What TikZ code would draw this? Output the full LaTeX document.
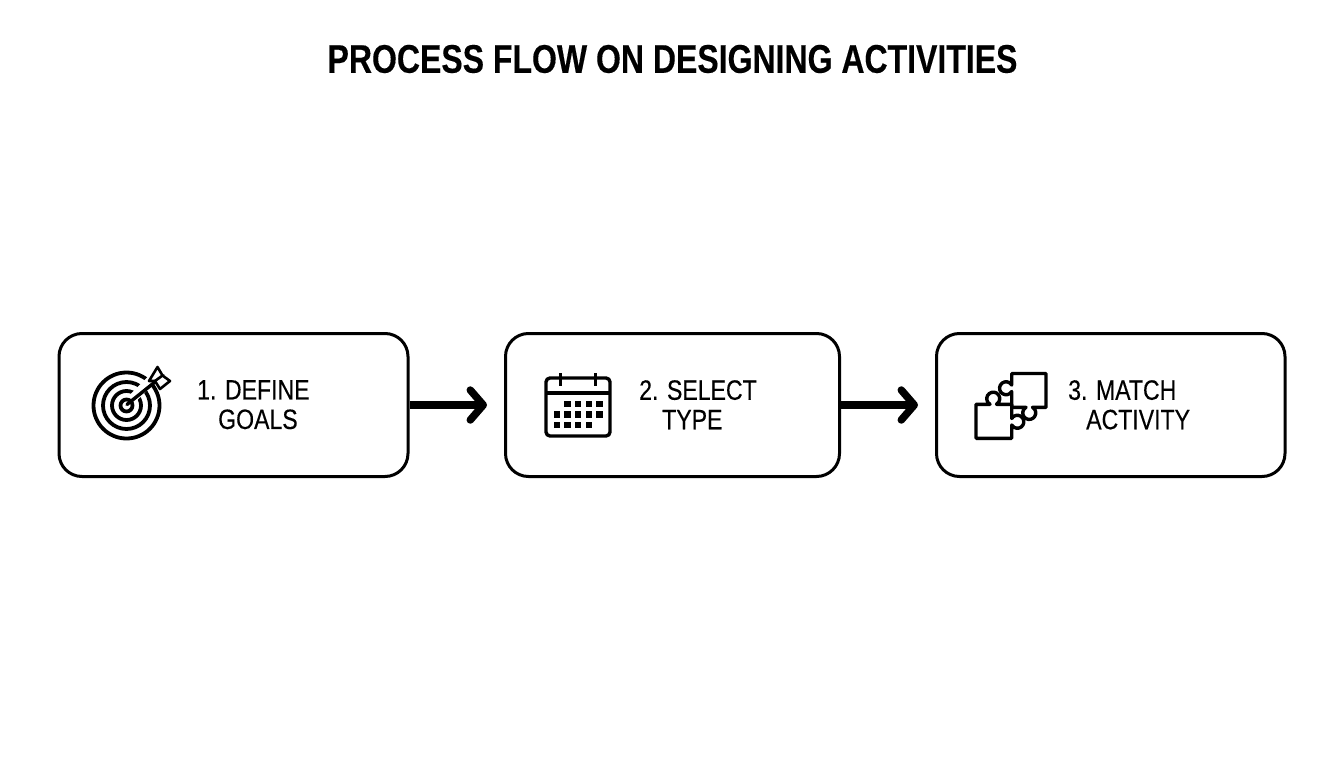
\documentclass[tikz,border=0pt]{standalone}
\usepackage{fontspec}
\usetikzlibrary{arrows.meta}
\setmainfont{Liberation Sans}
\newfontfamily\titlefont[FakeStretch=0.8,BoldFeatures={FakeStretch=0.8,FakeBold=0.25}]{Liberation Sans}
\newfontfamily\labelfont[FakeStretch=0.824,FakeBold=0.25]{Liberation Sans}
\tikzset{
  stepbox/.style={draw=black,line width=3pt,rounded corners=23pt,fill=white,inner sep=0pt,minimum height=143pt},
  flow/.style={line width=8.5pt,draw=black,-{Straight Barb[length=13pt,width=30pt,line width=7.5pt,round]}},
  lbl/.style={anchor=north west,inner sep=0pt,align=left,font=\labelfont\fontsize{28}{29.5}\selectfont},
  icon/.style={line width=3.4pt,draw=black,line join=round},
  ring/.style={line width=3.8pt,draw=black}
}
\begin{document}
\begin{tikzpicture}[x=1pt,y=-1pt]
\useasboundingbox (0,0) rectangle (1344,768);
\fill[white] (0,0) rectangle (1344,768);
\node[anchor=center,inner sep=0pt,font=\titlefont\bfseries\fontsize{40}{44}\selectfont] (title) at (672.5,59) {PROCESS FLOW ON DESIGNING ACTIVITIES};
\node[stepbox,minimum width=349pt] (box1) at (233.5,405) {};
\node[stepbox,minimum width=334pt] (box2) at (672.5,405) {};
\node[stepbox,minimum width=348.5pt] (box3) at (1110.75,405) {};
\coordinate (e1) at (487,405);
\coordinate (e2) at (918,405);
\draw[flow] (box1.east) -- (e1);
\draw[flow] (box2.east) -- (e2);
\node[lbl] (t1) at (197,380) {1. DEFINE\\\hspace*{21pt}GOALS};
\node[lbl] (t2) at (639,380) {2. SELECT\\\hspace*{23pt}TYPE};
\node[lbl] (t3) at (1068,380) {3. MATCH\\\hspace*{18pt}ACTIVITY};
% target
\foreach \r in {33,23.5,14.5,6}{\draw[ring] (126.5,405.5) circle[radius=\r];}
\draw[line width=9pt,white] (132,399) -- (152,379);
\draw[line width=3.4pt,black,line cap=round] (127,404.5) -- (163,375.5);
\draw[line width=2.6pt,black,fill=white,line join=round] (149,381) -- (157.5,367) -- (162.5,375.5) -- (170,381) -- (160,389) -- (155,381) -- cycle;
\draw[line width=2.6pt,black] (155,381) -- (162.5,375.5);
% calendar
\draw[icon,rounded corners=4pt] (546,378) rectangle (610,436);
\draw[icon] (546,393) -- (610,393);
\draw[icon,line width=3pt] (560.3,373) -- (560.3,386);
\draw[icon,line width=3pt] (595.7,373) -- (595.7,386);
\foreach \x/\y in {567.3/404,578/404,588.7/404,599.3/404,
  556.7/414.3,567.3/414.3,578/414.3,588.7/414.3,599.3/414.3,
  556.7/425,567.3/425,578/425,588.7/425}{\fill[black] (\x-3.2,\y-3.2) rectangle (\x+3.2,\y+3.2);}
% puzzle
\draw[icon] (1011.7,373.5) -- (1046,373.5) -- (1046,407.3) -- (1032.5,407.3)
  arc[start angle=-60,end angle=240,radius=6.5] -- (1011.7,407.3) -- (1011.7,391.5)
  arc[start angle=30,end angle=330,radius=6.5] -- (1011.7,373.5) -- cycle;
\draw[icon] (976,404.3) -- (990,404.3)
  arc[start angle=120,end angle=420,radius=6.5] -- (1011.7,404.3) -- (1011.7,418.5)
  arc[start angle=210,end angle=510,radius=6.5] -- (1011.7,438.3) -- (976,438.3) -- cycle;
\end{tikzpicture}
\end{document}
